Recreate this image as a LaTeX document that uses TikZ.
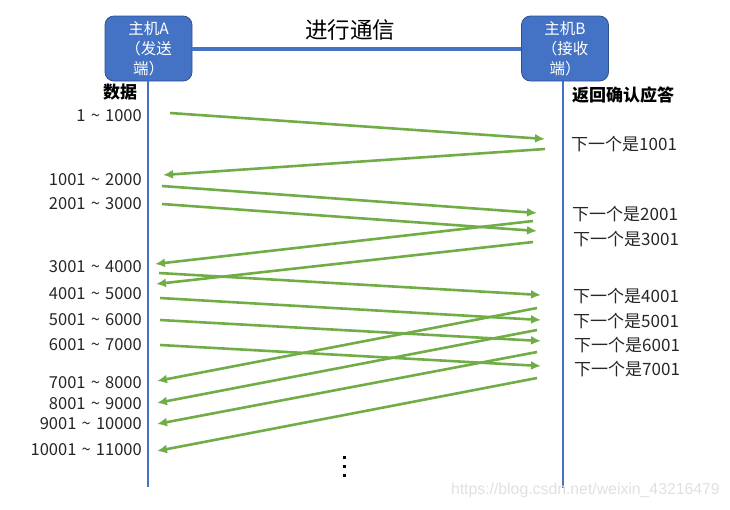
\documentclass[tikz,border=0pt]{standalone}
\usepackage{fontspec}
\setmainfont{Noto Sans CJK SC}
\newfontfamily\wmfont{Liberation Sans}
\usetikzlibrary{arrows.meta,positioning}
\definecolor{hostblue}{HTML}{4472C4}
\definecolor{hostedge}{HTML}{2F528F}
\definecolor{msggreen}{HTML}{70AD47}
\newcommand{\rng}{\hspace{1.5pt}\textasciitilde\hspace{1.5pt}}

\tikzset{
  host/.style={draw=hostedge, fill=hostblue, line width=0.8pt, rounded corners=9pt,
    minimum width=87pt, minimum height=65pt, text=white, align=center,
    font=\fontsize{15.5}{20}\selectfont, inner sep=0pt},
  lifeline/.style={draw=hostblue, line width=2pt},
  msg/.style={draw=msggreen, line width=2.6pt, -{Latex[length=10pt,width=9pt]}},
  seglabel/.style={anchor=east, inner sep=0pt, text=black!85, font=\fontsize{16.5}{18}\selectfont},
  acklabel/.style={anchor=west, inner sep=0pt, text=black!85, font=\fontsize{17}{18}\selectfont},
  headlabel/.style={inner sep=0pt, font=\bfseries\fontsize{17}{18}\selectfont}
}

\begin{document}
\begin{tikzpicture}[x=1pt,y=-1pt]
\useasboundingbox (0,0) rectangle (730,509);

% Hosts and link
\node[host] (hostA) at (148.5,48.5) {主机A\\（发送\\端）};
\node[host] (hostB) at (565,48.5) {主机B\\（接收\\端）};
\draw[hostblue, line width=4pt] (hostA.east) -- (hostB.west);
\node[font=\fontsize{22.5}{24}\selectfont] (title) at (350,30) {进行通信};

% Lifelines
\coordinate (endA) at (148,487);
\coordinate (endB) at (563,488);
\draw[lifeline] (hostA.south -| endA) -- (endA);
\draw[lifeline] (hostB.south -| endB) -- (endB);

% Column headings
\node[headlabel] (data) at (120,92) {数据};
\node[headlabel] (ack) at (623,95) {返回确认应答};

% Data segments sent by A
\foreach \n/\y/\txt in {1/116/1 \rng{} 1000, 2/180/1001 \rng{} 2000,
    3/204/2001 \rng{} 3000, 4/267/3001 \rng{} 4000,
    5/294/4001 \rng{} 5000, 6/320/5001 \rng{} 6000,
    7/345/6001 \rng{} 7000, 8/383/7001 \rng{} 8000,
    9/404/8001 \rng{} 9000, 10/424/9001 \rng{} 10000,
    11/450/10001 \rng{} 11000}
  \node[seglabel] (seg\n) at (142,\y) {\txt};

% Acknowledgements from B
\foreach \n/\y/\x in {1001/144/571, 2001/214/572, 3001/239/573, 4001/296/573,
    5001/321/573, 6001/345/574, 7001/369/574}
  \node[acklabel] (ack\n) at (\x,\y) {下一个是\n};

% Segments A -> B
\foreach \n/\xa/\ya/\xb/\yb in {1/170/113/545/139, 2/162/186/537/213, 3/162/204/537/231,
    4/159/273/541/295, 5/160/298/541/320, 6/160/320/541/341, 7/160/345/541/366} {
  \coordinate (sendS\n) at (\xa,\ya);
  \coordinate (sendE\n) at (\xb,\yb);
  \draw[msg] (sendS\n) -- (sendE\n);
}

% ACKs B -> A
\foreach \n/\xa/\ya/\xb/\yb in {1/545/149/163/175, 2/533/221/155/264, 3/533/242/156/284,
    4/537/308/157/381, 5/537/330/157/403, 6/537/352/157/424, 7/537/378/157/451} {
  \coordinate (ackS\n) at (\xa,\ya);
  \coordinate (ackE\n) at (\xb,\yb);
  \draw[msg] (ackS\n) -- (ackE\n);
}

% Continuation dots
\foreach \y in {457,466,475}
  \fill (342.5,\y-1.5) rectangle ++(3,3);

% Watermark
\node[font=\wmfont\fontsize{15.8}{18}\selectfont, text=black!12, anchor=east, inner sep=0pt] (mark) at (720,490) {https://blog.csdn.net/weixin\_43216479};
\end{tikzpicture}
\end{document}
